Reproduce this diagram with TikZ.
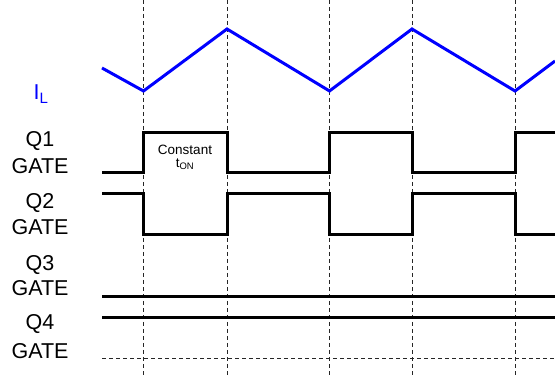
\documentclass[tikz,border=0pt]{standalone}
\usepackage{fontspec}
\setmainfont{Liberation Sans}
\usepackage{tikz}
\usetikzlibrary{positioning,calc}
\definecolor{ilblue}{RGB}{0,0,255}

\begin{document}
\begin{tikzpicture}[x=1pt, y=-1pt,
    sig/.style={line width=3pt, line join=miter},
    gridline/.style={black!85, line width=0.8pt, dash pattern=on 4pt off 3pt},
    lbl/.style={font=\fontsize{21.5}{24}\selectfont, anchor=base, inner sep=0pt}]

\useasboundingbox (0,0) rectangle (555,377);

% switching instants
\foreach \t in {143.5, 227, 329.5, 412, 515}
    \draw[gridline] (\t, 0) -- (\t, 377);
\draw[gridline] (102, 358) -- (555, 358);

% inductor current
\draw[sig, ilblue] (102, 68) -- (143.5, 91) -- (227, 29) -- (329.5, 91)
    -- (412, 29) -- (515, 91) -- (555, 61);
\node[lbl, text=ilblue] (lblIL) at (41, 100) {I\textsubscript{L}};

% Q1
\draw[sig] (102, 173) -- (143.5, 173) -- (143.5, 133) -- (227, 133) -- (227, 173)
    -- (329.5, 173) -- (329.5, 133) -- (412, 133) -- (412, 173)
    -- (515, 173) -- (515, 133) -- (555, 133);
\node[lbl] (lblQa) at (40, 147) {Q1};
\node[lbl] (lblGa) at (40, 174) {GATE};
\node[font=\fontsize{13.5}{15}\selectfont, anchor=base, inner sep=0pt] (ton) at (185, 154.5) {Constant};
\node[font=\fontsize{13.5}{15}\selectfont, anchor=base, inner sep=0pt] (tonb) at (185, 167.5) {t\textsubscript{ON}};

% Q2
\draw[sig] (102, 194) -- (143.5, 194) -- (143.5, 235) -- (227, 235) -- (227, 194)
    -- (329.5, 194) -- (329.5, 235) -- (412, 235) -- (412, 194)
    -- (515, 194) -- (515, 235) -- (555, 235);
\node[lbl] (lblQb) at (40, 209) {Q2};
\node[lbl] (lblGb) at (40, 235) {GATE};

% Q3, Q4
\draw[sig] (102, 297) -- (555, 297);
\node[lbl] (lblQc) at (40, 271) {Q3};
\node[lbl] (lblGc) at (40, 295) {GATE};
\draw[sig] (102, 317) -- (555, 317);
\node[lbl] (lblQd) at (40, 330) {Q4};
\node[lbl] (lblGd) at (40, 358) {GATE};

\end{tikzpicture}
\end{document}
